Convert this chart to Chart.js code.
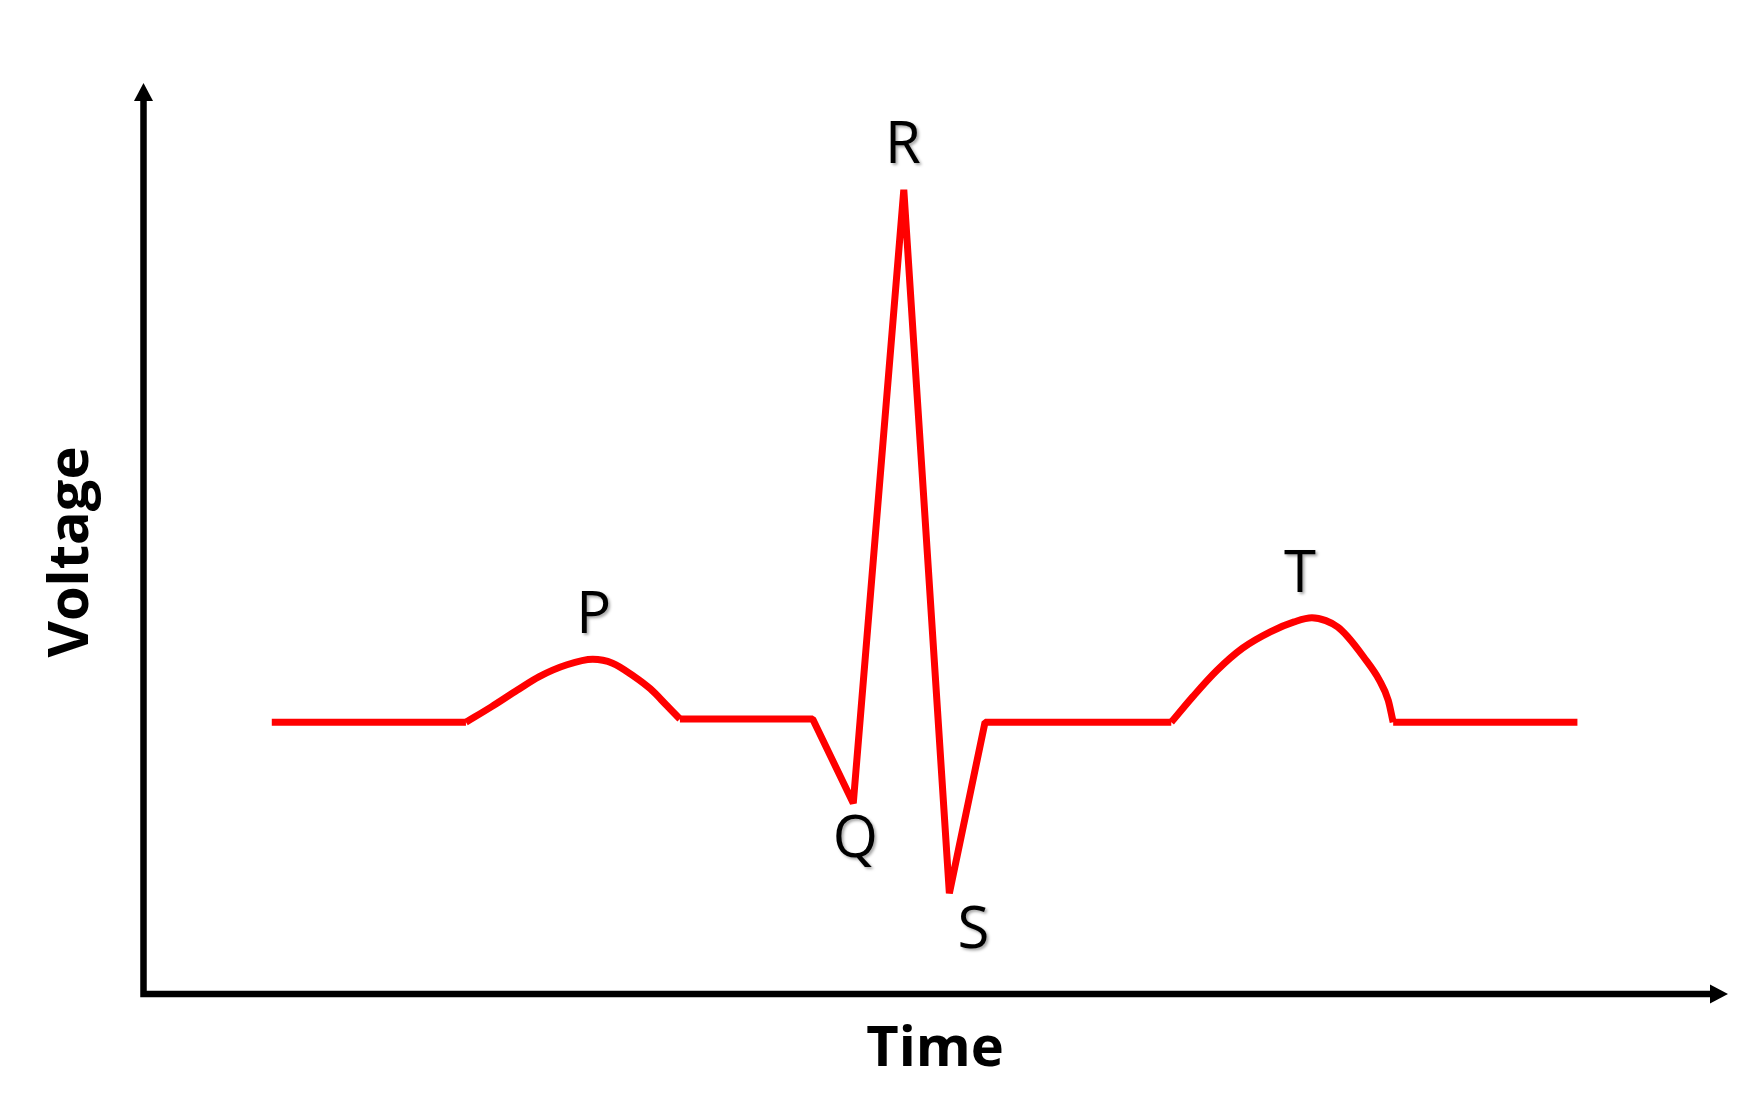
<!DOCTYPE html>
<html>
<head>
<meta charset="utf-8">
<title>ECG waveform</title>
<script src="https://cdn.jsdelivr.net/npm/chart.js@4.4.1/dist/chart.umd.min.js"></script>
<style>
  html, body { margin: 0; padding: 0; background: #fff; }
  #ecgChart { display: block; }
</style>
</head>
<body>
<canvas id="ecgChart" width="1763" height="1108"></canvas>
<script>
// ===== DATA =====
// one heartbeat (time in ms, voltage in mV)
const timeMs  = [65, 163, 176, 189, 200, 214, 227, 237, 248, 256, 264, 271,
                 338, 358.5, 384, 407, 425,
                 519, 530, 542, 555, 569, 581, 590, 597, 603, 608, 616, 624, 628.5, 631, 724];
const voltage = [0, 0, 0.049, 0.101, 0.143, 0.180, 0.197, 0.185, 0.143, 0.105, 0.055, 0.01,
                 0.01, -0.253, 1.666, -0.535, 0,
                 0, 0.081, 0.162, 0.232, 0.283, 0.314, 0.327, 0.318, 0.298, 0.268, 0.205, 0.132, 0.069, 0, 0];

// rounded waves (first and last index of each)
const pWave = [1, 11];
const tWave = [17, 30];

// wave names and the point each one sits on
const waveNames = ['P', 'Q', 'R', 'S', 'T'];
const waveIndex = [6, 13, 14, 15, 23];

const xTitle = 'Time';
const yTitle = 'Voltage';

// ===== PLUGIN: arrow axes, titles, wave letters =====
const ecgDecor = {
    id: 'ecgDecor',
    afterDatasetsDraw(chart) {
        const ctx = chart.ctx;
        const a = chart.chartArea;
        const x0 = a.left + 0.5, y0 = a.bottom;

        ctx.save();
        // axes
        ctx.strokeStyle = '#000';
        ctx.fillStyle = '#000';
        ctx.lineWidth = 6.5;
        ctx.lineCap = 'butt';
        ctx.beginPath();
        ctx.moveTo(x0, y0 + 3.25);
        ctx.lineTo(x0, a.top + 14);
        ctx.moveTo(x0 - 3.25, y0);
        ctx.lineTo(a.right - 14, y0);
        ctx.stroke();

        // arrow heads
        ctx.beginPath();
        ctx.moveTo(x0, a.top);
        ctx.lineTo(x0 + 9.5, a.top + 18);
        ctx.lineTo(x0 - 9.5, a.top + 18);
        ctx.closePath();
        ctx.fill();
        ctx.beginPath();
        ctx.moveTo(a.right, y0);
        ctx.lineTo(a.right - 18, y0 - 9.5);
        ctx.lineTo(a.right - 18, y0 + 9.5);
        ctx.closePath();
        ctx.fill();

        // axis titles
        ctx.font = 'bold 56px "Open Sans", "Noto Sans", sans-serif';
        ctx.textAlign = 'center';
        ctx.textBaseline = 'alphabetic';
        ctx.fillText(xTitle, 935, 1066);
        ctx.save();
        ctx.translate(88, 552);
        ctx.rotate(-Math.PI / 2);
        ctx.fillText(yTitle, 0, 0);
        ctx.restore();

        // wave letters
        const offs = {
            P: [1, -26], Q: [2, 54], R: [-1, -27], S: [24, 55], T: [-12, -26]
        };
        const xs = chart.scales.x, ys = chart.scales.y;
        ctx.font = '58px "Open Sans", "Noto Sans", sans-serif';
        ctx.shadowColor = 'rgba(0,0,0,0.35)';
        ctx.shadowBlur = 3;
        ctx.shadowOffsetX = 2;
        ctx.shadowOffsetY = 2;
        waveNames.forEach(function(name, i){
            const k = waveIndex[i];
            const px = xs.getPixelForValue(timeMs[k]);
            const py = ys.getPixelForValue(voltage[k]);
            ctx.fillText(name, px + offs[name][0], py + offs[name][1]);
        });
        ctx.restore();
    }
};

// ===== CHART =====
const points = timeMs.map(function(t, i){ return { x: t, y: voltage[i] }; });

// straight parts: blank out the inside of the P and T waves
function insideWave(i){
    return (i > pWave[0] && i < pWave[1]) || (i > tWave[0] && i < tWave[1]);
}
const straight = points.map(function(p, i){
    return insideWave(i) ? { x: p.x, y: null } : p;
});

const lineStyle = {
    borderColor: '#ff0000',
    borderWidth: 7,
    borderJoinStyle: 'bevel',
    pointRadius: 0,
    fill: false
};

new Chart(document.getElementById('ecgChart').getContext('2d'), {
    type: 'line',
    data: {
        datasets: [
            Object.assign({ label: 'ECG', data: straight, tension: 0, spanGaps: false }, lineStyle),
            Object.assign({ label: 'P wave', data: points.slice(pWave[0], pWave[1] + 1),
                            cubicInterpolationMode: 'monotone' }, lineStyle),
            Object.assign({ label: 'T wave', data: points.slice(tWave[0], tWave[1] + 1),
                            cubicInterpolationMode: 'monotone' }, lineStyle)
        ]
    },
    options: {
        responsive: false,
        animation: false,
        layout: { padding: { left: 143, top: 83, right: 35, bottom: 114 } },
        plugins: {
            legend: { display: false },
            tooltip: { enabled: false }
        },
        scales: {
            x: { type: 'linear', min: 0, max: 800, display: false },
            y: { type: 'linear', min: -0.85, max: 2.0, display: false }
        }
    },
    plugins: [ecgDecor]
});
</script>
</body>
</html>
